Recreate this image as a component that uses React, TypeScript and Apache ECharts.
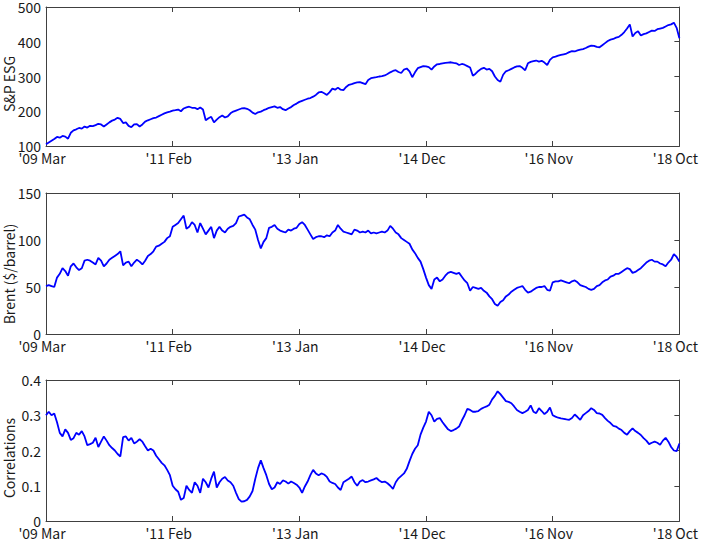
import React, { useEffect, useRef } from "react";
import * as echarts from "echarts";

const MONTHS = ["Jan", "Feb", "Mar", "Apr", "May", "Jun", "Jul", "Aug", "Sep", "Oct", "Nov", "Dec"];

// half-monthly dates from 2009-03-01 to 2018-10-01
const dates: string[] = [];
for (let i = 0; i < 231; i++) {
  const m = 2 + Math.floor(i / 2);
  const y = 2009 + Math.floor(m / 12);
  const mm = (m % 12) + 1;
  dates.push(`${y}-${String(mm).padStart(2, "0")}-${i % 2 === 0 ? "01" : "16"}`);
}

const spEsg = [
  105, 110, 115, 120, 126, 124, 129, 127, 121, 138, 145, 148, 152, 150, 156, 153, 158, 157, 160, 164,
  162, 156, 162, 168, 173, 176, 181, 178, 166, 168, 158, 154, 162, 163, 156, 162, 170, 174, 177, 180,
  182, 186, 190, 194, 197, 199, 202, 203, 205, 200, 208, 211, 213, 210, 210, 206, 211, 205, 174, 180,
  184, 168, 176, 183, 188, 182, 185, 194, 199, 202, 205, 208, 209, 207, 203, 196, 192, 197, 199, 203,
  206, 210, 212, 214, 210, 212, 206, 203, 208, 212, 218, 222, 227, 230, 233, 236, 238, 242, 247, 254,
  256, 252, 247, 255, 265, 262, 268, 262, 261, 270, 276, 278, 281, 283, 284, 281, 278, 290, 295, 297,
  298, 300, 301, 303, 307, 312, 316, 318, 313, 310, 320, 323, 315, 298, 312, 324, 327, 330, 329, 327,
  320, 329, 335, 336, 338, 339, 340, 341, 339, 338, 333, 336, 334, 330, 326, 302, 308, 316, 322, 325,
  320, 322, 315, 300, 290, 285, 305, 315, 318, 322, 326, 329, 330, 325, 318, 338, 342, 344, 346, 343,
  345, 340, 333, 348, 355, 357, 360, 362, 364, 366, 370, 373, 372, 375, 377, 379, 382, 386, 389, 388,
  385, 384, 390, 396, 402, 406, 408, 412, 414, 420, 428, 438, 450, 415, 425, 430, 418, 422, 424, 428,
  432, 431, 436, 438, 440, 444, 448, 450, 455, 440,
  410,
];

const brent = [
  51, 52, 51, 50, 60, 64, 70, 67, 62, 72, 75, 71, 68, 70, 78, 79, 78, 76, 74, 81,
  78, 72, 75, 79, 81, 83, 85, 88, 73, 76, 77, 72, 76, 79, 77, 74, 78, 83, 85, 88,
  93, 94, 96, 98, 102, 104, 114, 116, 118, 122, 126, 112, 114, 119, 116, 108, 118, 112, 106, 110,
  114, 102, 110, 114, 110, 108, 112, 114, 115, 118, 125, 126, 127, 124, 122, 116, 111, 100, 91, 98,
  102, 113, 114, 116, 112, 110, 109, 108, 111, 110, 112, 113, 117, 119, 116, 111, 106, 101, 103, 104,
  104, 103, 105, 104, 108, 110, 116, 112, 109, 108, 107, 106, 111, 110, 108, 109, 108, 110, 107, 108,
  107, 108, 109, 108, 110, 115, 112, 108, 106, 102, 100, 98, 96, 90, 86, 81, 77, 69, 60, 52,
  48, 58, 60, 56, 58, 62, 65, 66, 65, 64, 65, 61, 57, 54, 46, 50, 49, 48, 49, 46,
  44, 40, 37, 32, 30, 34, 36, 40, 42, 45, 47, 49, 50, 51, 47, 44, 45, 47, 49, 50,
  50, 51, 47, 46, 55, 56, 56, 57, 56, 55, 54, 56, 57, 55, 52, 51, 50, 48, 47, 48,
  51, 52, 55, 57, 58, 61, 62, 64, 64, 66, 68, 70, 69, 65, 66, 68, 70, 73, 76, 78,
  79, 77, 77, 75, 74, 72, 76, 79, 85, 82,
  77,
];

const correlations = [
  0.3, 0.31, 0.3, 0.305, 0.28, 0.25, 0.24, 0.26, 0.25, 0.23, 0.235, 0.25, 0.245, 0.255, 0.24, 0.215, 0.218, 0.222, 0.236, 0.21,
  0.225, 0.24, 0.228, 0.215, 0.207, 0.2, 0.19, 0.183, 0.238, 0.24, 0.228, 0.236, 0.22, 0.225, 0.232, 0.225, 0.212, 0.2, 0.205, 0.2,
  0.185, 0.175, 0.165, 0.158, 0.145, 0.13, 0.1, 0.09, 0.083, 0.06, 0.065, 0.1, 0.088, 0.08, 0.11, 0.1, 0.08, 0.12, 0.11, 0.095,
  0.12, 0.14, 0.095, 0.11, 0.12, 0.125, 0.115, 0.11, 0.1, 0.08, 0.062, 0.055, 0.056, 0.06, 0.07, 0.085, 0.12, 0.15, 0.172, 0.15,
  0.13, 0.105, 0.09, 0.095, 0.11, 0.105, 0.115, 0.112, 0.106, 0.112, 0.108, 0.103, 0.095, 0.08, 0.098, 0.112, 0.13, 0.145, 0.135, 0.13,
  0.135, 0.132, 0.125, 0.112, 0.108, 0.105, 0.095, 0.088, 0.11, 0.115, 0.12, 0.126, 0.11, 0.1, 0.112, 0.116, 0.11, 0.112, 0.115, 0.118,
  0.122, 0.115, 0.11, 0.112, 0.107, 0.1, 0.091, 0.11, 0.121, 0.128, 0.135, 0.148, 0.17, 0.19, 0.205, 0.215, 0.245, 0.265, 0.282, 0.31,
  0.3, 0.282, 0.29, 0.292, 0.28, 0.27, 0.26, 0.255, 0.258, 0.262, 0.268, 0.285, 0.3, 0.318, 0.315, 0.31, 0.31, 0.312, 0.318, 0.322,
  0.325, 0.33, 0.345, 0.355, 0.368, 0.36, 0.35, 0.34, 0.338, 0.334, 0.325, 0.315, 0.31, 0.306, 0.31, 0.315, 0.328, 0.31, 0.306, 0.32,
  0.312, 0.303, 0.31, 0.322, 0.3, 0.296, 0.293, 0.291, 0.29, 0.288, 0.287, 0.292, 0.302, 0.295, 0.287, 0.3, 0.306, 0.312, 0.32, 0.315,
  0.306, 0.305, 0.301, 0.292, 0.284, 0.278, 0.27, 0.268, 0.262, 0.258, 0.25, 0.245, 0.255, 0.263, 0.255, 0.25, 0.244, 0.235, 0.228, 0.218,
  0.222, 0.225, 0.222, 0.216, 0.228, 0.236, 0.225, 0.21, 0.2, 0.198,
  0.22,
];

const panelTitles = ["S&P ESG", "Brent ($/barrel)", "Correlations"];
const panelSeries = [spEsg, brent, correlations];
const yRanges = [
  { min: 100, max: 500, interval: 100 },
  { min: 0, max: 150, interval: 50 },
  { min: 0, max: 0.4, interval: 0.1 },
];

const FONT = "Noto Sans CJK JP";
const AXIS_COLOR = "#404040";
const TEXT_COLOR = "#1a1a1a";

function fmtDate(v: string): string {
  const [y, m] = v.split("-");
  return `'${y.slice(2)} ${MONTHS[parseInt(m, 10) - 1]}`;
}

export default function App() {
  const ref = useRef<HTMLDivElement>(null);
  useEffect(() => {
    if (!ref.current) return;
    const chart = echarts.init(ref.current, undefined, { renderer: "svg" });
    const tops = [5, 193, 380];
    const H = 141;
    const grids = tops.map((t) => ({ left: 46, top: t, width: 645, height: H }));
    const xAxes: any[] = [];
    const yAxes: any[] = [];
    const series: any[] = [];
    const graphics: any[] = [];
    const titleCenters = [84, 274, 458];
    tops.forEach((t, i) => {
      xAxes.push({
        type: "category",
        gridIndex: i,
        data: dates,
        boundaryGap: false,
        position: "bottom",
        axisLine: { show: true, onZero: false, lineStyle: { color: AXIS_COLOR, width: 1 } },
        axisTick: { show: true, inside: true, length: 5, interval: 45, lineStyle: { color: AXIS_COLOR } },
        axisLabel: {
          show: true,
          interval: 45,
          margin: 6,
          fontSize: 14,
          lineHeight: 12,
          fontFamily: FONT,
          color: TEXT_COLOR,
          padding: [0, 8, 0, 0],
          formatter: (v: string) => fmtDate(v),
        },
        splitLine: { show: false },
      });
      xAxes.push({
        type: "category",
        gridIndex: i,
        data: dates,
        boundaryGap: false,
        position: "top",
        axisLine: { show: true, onZero: false, lineStyle: { color: AXIS_COLOR, width: 1 } },
        axisTick: { show: true, inside: true, length: 5, interval: 45, lineStyle: { color: AXIS_COLOR } },
        axisLabel: { show: false },
        splitLine: { show: false },
      });
      const r = yRanges[i];
      yAxes.push({
        type: "value",
        gridIndex: i,
        position: "left",
        min: r.min,
        max: r.max,
        interval: r.interval,
        axisLine: { show: true, onZero: false, lineStyle: { color: AXIS_COLOR, width: 1 } },
        axisTick: { show: false },
        axisLabel: { show: true, margin: 5, fontSize: 14, lineHeight: 10, fontFamily: FONT, color: TEXT_COLOR },
        splitLine: { show: false },
      });
      yAxes.push({
        type: "value",
        gridIndex: i,
        position: "right",
        min: r.min,
        max: r.max,
        interval: r.interval,
        axisLine: { show: true, onZero: false, lineStyle: { color: AXIS_COLOR, width: 1 } },
        axisTick: { show: true, inside: true, length: 5, lineStyle: { color: AXIS_COLOR } },
        axisLabel: { show: false },
        splitLine: { show: false },
      });
      series.push({
        type: "line",
        xAxisIndex: i * 2,
        yAxisIndex: i * 2,
        data: panelSeries[i],
        showSymbol: false,
        symbol: "none",
        lineStyle: { color: "#0000ff", width: 1.8 },
        z: 1,
      });
      graphics.push({
        type: "text",
        x: 9,
        y: titleCenters[i],
        rotation: Math.PI / 2,
        style: {
          text: panelTitles[i],
          fontSize: 14,
          fontFamily: FONT,
          fill: TEXT_COLOR,
          align: "center",
          verticalAlign: "middle",
        },
      });
    });
    chart.setOption({
      animation: false,
      backgroundColor: "#ffffff",
      grid: grids,
      xAxis: xAxes,
      yAxis: yAxes,
      series,
      graphic: graphics,
    });
    return () => chart.dispose();
  }, []);
  return (
    <div
      ref={ref}
      style={{ position: "fixed", left: 0, top: 0, width: 709, height: 541, background: "#fff" }}
    />
  );
}
